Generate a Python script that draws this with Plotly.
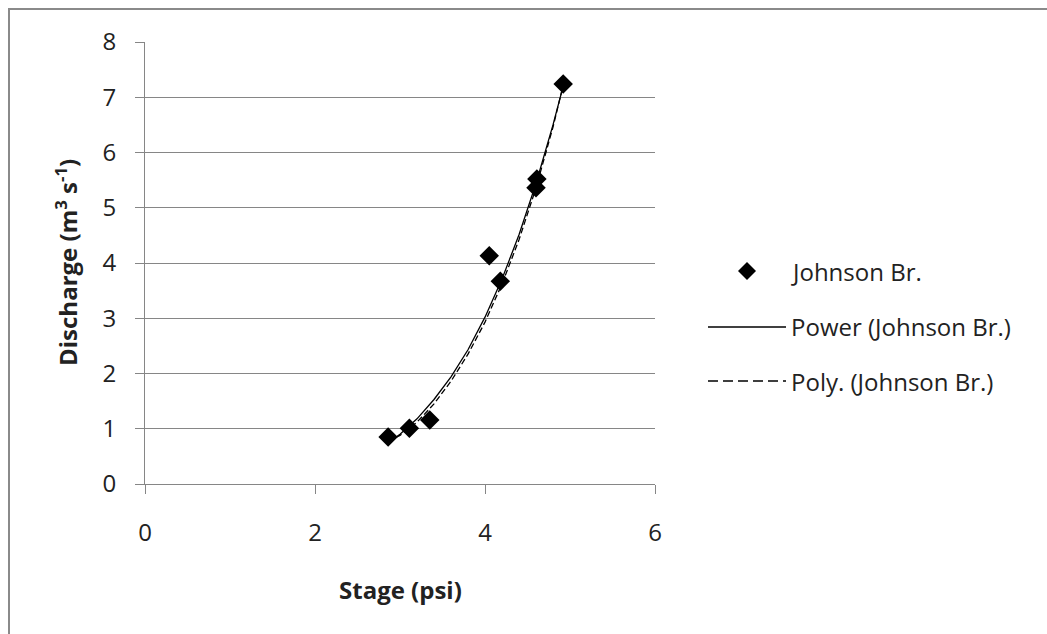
import plotly.graph_objects as go

stage = [2.86, 3.11, 3.35, 4.05, 4.18, 4.60, 4.61, 4.92]
discharge = [0.85, 1.01, 1.16, 4.13, 3.67, 5.36, 5.52, 7.24]

# Trendlines
power_x = [2.86, 3.0, 3.2, 3.4, 3.6, 3.8, 4.0, 4.2, 4.4, 4.6, 4.8, 4.92]
power_y = [0.74, 0.90, 1.18, 1.53, 1.94, 2.43, 3.02, 3.71, 4.51, 5.44, 6.50, 7.20]
poly_x = [2.86, 3.0, 3.2, 3.4, 3.6, 3.8, 4.0, 4.2, 4.4, 4.6, 4.8, 4.92]
poly_y = [0.78, 0.88, 1.12, 1.45, 1.86, 2.35, 2.93, 3.62, 4.42, 5.36, 6.46, 7.22]

x_ticks = [0, 2, 4, 6]
y_ticks = [0, 1, 2, 3, 4, 5, 6, 7, 8]

FONT = "Open Sans"
GRID = "#868686"

W, H = 1047, 634
L, R, T, B = 145, 655, 42, 484


def px(x):
    return (x - L) / (R - L)


def py(y):
    return (B - y) / (B - T)


fig = go.Figure()
fig.add_trace(go.Scatter(x=power_x, y=power_y, mode="lines",
                         line=dict(color="black", width=1.3),
                         name="Power (Johnson Br.)", showlegend=False))
fig.add_trace(go.Scatter(x=poly_x, y=poly_y, mode="lines",
                         line=dict(color="black", width=1.3, dash="6px,3px"),
                         name="Poly. (Johnson Br.)", showlegend=False))
fig.add_trace(go.Scatter(x=stage, y=discharge, mode="markers",
                         marker=dict(symbol="diamond", size=15, color="black"),
                         name="Johnson Br.", showlegend=False))

shapes = []
# outer chart border (top & left visible)
shapes.append(dict(type="rect", xref="paper", yref="paper",
                   x0=px(9), x1=px(1060), y0=py(9), y1=py(650),
                   line=dict(color="#8a8a8a", width=2), layer="below"))
# custom legend
dcx, dcy, dr = 747, 271, 9
shapes.append(dict(type="path", xref="paper", yref="paper",
                   path=f"M {px(dcx-dr)} {py(dcy)} L {px(dcx)} {py(dcy-dr)} "
                        f"L {px(dcx+dr)} {py(dcy)} L {px(dcx)} {py(dcy+dr)} Z",
                   fillcolor="black", line=dict(width=0)))
shapes.append(dict(type="line", xref="paper", yref="paper",
                   x0=px(708), x1=px(786), y0=py(327), y1=py(327),
                   line=dict(color="black", width=1.3)))
shapes.append(dict(type="line", xref="paper", yref="paper",
                   x0=px(708), x1=px(786), y0=py(381), y1=py(381),
                   line=dict(color="black", width=1.3, dash="10px,5px")))

annotations = []
for txt, yy in [("Johnson Br.", 271), ("Power (Johnson Br.)", 327),
                ("Poly. (Johnson Br.)", 381)]:
    annotations.append(dict(text=txt, xref="paper", yref="paper",
                            x=px(789), y=py(yy), xanchor="left", yanchor="middle",
                            showarrow=False, font=dict(family=FONT, size=24, color="#222")))
annotations.append(dict(text="<b>Stage (psi)</b>", xref="paper", yref="paper",
                        x=px(400), y=py(589), xanchor="center", yanchor="middle",
                        showarrow=False, font=dict(family=FONT, size=24, color="#222")))
annotations.append(dict(text="<b>Discharge (m<sup>3</sup> s<sup>-1</sup>)</b>",
                        xref="paper", yref="paper", textangle=-90,
                        x=px(66), y=py(263), xanchor="center", yanchor="middle",
                        showarrow=False, font=dict(family=FONT, size=24, color="#222")))

fig.update_layout(
    width=W, height=H,
    margin=dict(l=L, r=W - R, t=T, b=H - B, pad=0),
    paper_bgcolor="white", plot_bgcolor="white",
    font=dict(family=FONT, size=24, color="#222"),
    shapes=shapes, annotations=annotations,
    xaxis=dict(range=[0, 6], tickvals=x_ticks, showgrid=False, zeroline=False,
               showline=True, linecolor=GRID, linewidth=1,
               ticks="outside", ticklen=9, tickcolor=GRID, tickwidth=1,
               ticklabelstandoff=18, tickfont=dict(family=FONT, size=24, color="#222")),
    yaxis=dict(range=[0, 8], tickvals=y_ticks, showgrid=True, gridcolor=GRID,
               gridwidth=1, zeroline=False,
               showline=True, linecolor=GRID, linewidth=1,
               ticks="outside", ticklen=9, tickcolor=GRID, tickwidth=1,
               ticklabelstandoff=14, tickfont=dict(family=FONT, size=24, color="#222")),
)

fig.write_html("out.html")
